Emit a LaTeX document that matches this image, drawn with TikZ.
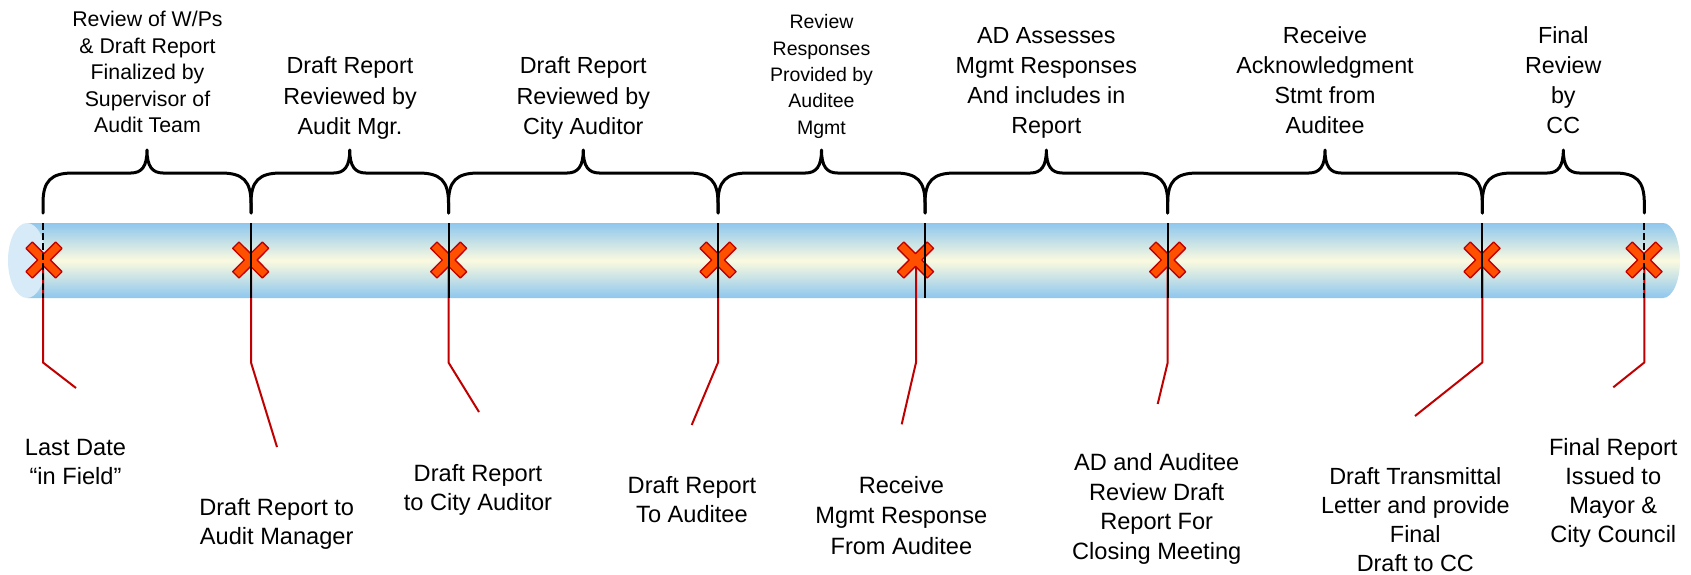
\documentclass[tikz,border=0pt]{standalone}
\usepackage{fontspec}
\setmainfont{Liberation Sans}
\definecolor{tubeblue}{HTML}{8DC7EE}
\definecolor{tubecream}{HTML}{FBFADF}
\definecolor{capblue}{HTML}{D6EAF7}
\definecolor{xfill}{HTML}{FF5000}
\definecolor{xline}{HTML}{C00000}
\definecolor{redline}{HTML}{C00000}
\tikzset{
  lbl/.style 2 args={align=center, anchor=base, inner sep=0pt, font=\fontsize{#1}{#2}\selectfont},
  tickline/.style={black, line width=2pt},
  callout/.style={redline, line width=2pt, line join=round},
  bracestyle/.style={black, line width=3pt, line join=round, line cap=round},
  xmark/.pic={\draw[xline, fill=xfill, line width=1.3pt, line join=round]
     (0,6.4)--(11.67,18.03)--(18.03,11.67)--(6.4,0)--(18.03,-11.67)--(11.67,-18.03)
     --(0,-6.4)--(-11.67,-18.03)--(-18.03,-11.67)--(-6.4,0)--(-18.03,11.67)--(-11.67,18.03)--cycle;}
}
\newcommand\tlbrace[2]{%
  \pgfmathsetmacro\bm{(#1+#2)/2}%
  \draw[bracestyle] (#1,213) -- (#1,203) .. controls (#1,181) and (#1+8,173) .. (#1+30,173)
    -- (\bm-16,173) .. controls (\bm-5,173) and (\bm,166) .. (\bm,150)
    .. controls (\bm,166) and (\bm+5,173) .. (\bm+16,173)
    -- (#2-30,173) .. controls (#2-8,173) and (#2,181) .. (#2,203) -- (#2,213);}
\begin{document}
\begin{tikzpicture}[x=1pt,y=-1pt]
\useasboundingbox (0,0) rectangle (1691,575);
% tube
\shade[top color=tubeblue, bottom color=tubeblue, middle color=tubecream]
  (27,223) -- (1663,223) arc[start angle=-90, end angle=90, x radius=17, y radius=37.5] -- (27,298) -- cycle;
\fill[capblue] (27,260.5) ellipse [x radius=19, y radius=37.5];
% milestones: index / tick x / X centre x / red x / end x / end y
\foreach \i/\lx/\cx/\rx/\ex/\ey in {
  1/43/44/43/76/388,
  2/251/250.7/251/277/447,
  3/448.5/448.7/448.5/479/412,
  4/718/718/718/691.7/425,
  5/925/915.5/916/901.7/424.3,
  6/1167.7/1167.7/1167.7/1157.7/404,
  7/1482.3/1482/1482.3/1415/416,
  8/1644.3/1644/1644.3/1613.3/387.3}{
  \coordinate (c\i) at (\rx,260);
  \coordinate (k\i) at (\rx,362.5);
  \coordinate (e\i) at (\ex,\ey);
  \coordinate (x\i) at (\cx,260);
  \coordinate (t\i) at (\lx,223);
  \coordinate (b\i) at (\lx,298);
  \draw[callout] (c\i) -- (k\i) -- (e\i);
  \pic at (x\i) {xmark};
}
\foreach \i in {2,...,7}{\draw[tickline] (t\i) -- (b\i);}
\draw[tickline, dash pattern=on 7pt off 3pt] (t1) -- (b1);
\draw[tickline, dash pattern=on 7pt off 3pt] (t8) -- (b8);
% braces
\tlbrace{43}{251}
\tlbrace{251}{448.5}
\tlbrace{448.5}{718}
\tlbrace{718}{925}
\tlbrace{925}{1167.7}
\tlbrace{1167.7}{1482.3}
\tlbrace{1482.3}{1644.3}
% top labels (anchor = baseline of last line)
\node[lbl={21.3}{26.5}] (p1) at (147.5,132.5) {Review of W/Ps\\\& Draft Report\\Finalized by\\Supervisor of\\Audit Team};
\node[lbl={23.3}{30.7}] (p2) at (350,135) {Draft Report\\Reviewed by\\Audit Mgr.};
\node[lbl={23.3}{30.7}] (p3) at (583.3,135) {Draft Report\\Reviewed by\\City Auditor};
\node[lbl={19.5}{26.3}] (p4) at (821.5,134.2) {Review\\Responses\\Provided by\\Auditee\\Mgmt};
\node[lbl={23.3}{30}] (p5) at (1046.3,133.5) {AD Assesses\\Mgmt Responses\\And includes in\\Report};
\node[lbl={23.3}{30}] (p6) at (1325,133.5) {Receive\\Acknowledgment\\Stmt from\\Auditee};
\node[lbl={23.3}{30}] (p7) at (1563.3,133.5) {Final\\Review\\by\\CC};
% bottom labels
\node[lbl={23.6}{28.4}] (q1) at (75.5,484.2) {Last Date\\“in Field”};
\node[lbl={23.6}{28.4}] (q2) at (276.7,544.2) {Draft Report to\\Audit Manager};
\node[lbl={23.6}{28.4}] (q3) at (478,510) {Draft Report\\to City Auditor};
\node[lbl={23.6}{29}] (q4) at (692,522) {Draft Report\\To Auditee};
\node[lbl={23.6}{30.5}] (q5) at (901.4,554) {Receive\\Mgmt Response\\From Auditee};
\node[lbl={23.6}{29.5}] (q6) at (1156.7,559.3) {AD and Auditee\\Review Draft\\Report For\\Closing Meeting};
\node[lbl={23.4}{29}] (q7) at (1415.3,571.2) {Draft Transmittal\\Letter and provide\\Final\\Draft to CC};
\node[lbl={23.6}{29}] (q8) at (1613.3,542.8) {Final Report\\Issued to\\Mayor \&\\City Council};
\end{tikzpicture}
\end{document}
